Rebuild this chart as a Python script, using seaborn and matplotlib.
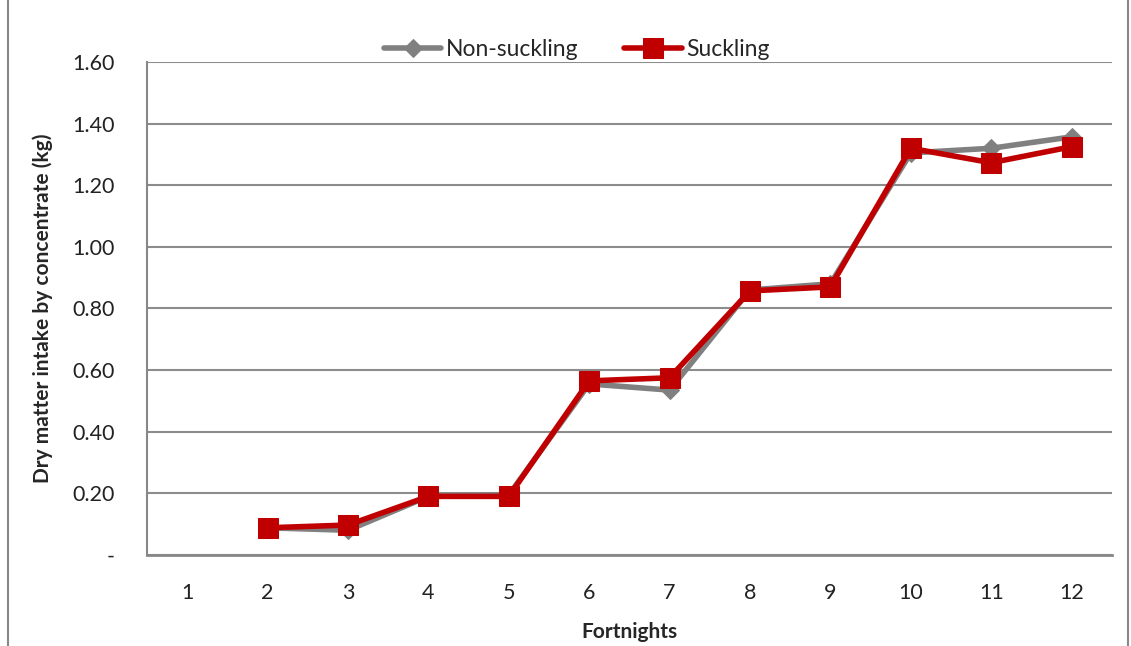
import pandas as pd
import seaborn as sns
import matplotlib.pyplot as plt
from matplotlib.patches import Rectangle

fortnights = [1, 2, 3, 4, 5, 6, 7, 8, 9, 10, 11, 12]
non_suckling = [None, 0.088, 0.080, 0.190, 0.195, 0.555, 0.535, 0.860, 0.880, 1.305, 1.320, 1.357]
suckling = [None, 0.088, 0.097, 0.190, 0.190, 0.565, 0.575, 0.857, 0.870, 1.320, 1.273, 1.325]
y_ticks = [0, 0.2, 0.4, 0.6, 0.8, 1.0, 1.2, 1.4, 1.6]
y_labels = ['-', '0.20', '0.40', '0.60', '0.80', '1.00', '1.20', '1.40', '1.60']

df = pd.DataFrame({'Fortnight': fortnights, 'Non-suckling': non_suckling, 'Suckling': suckling})

sns.set_style('white')
plt.rcParams['font.family'] = ['Lato', 'DejaVu Sans']

fig = plt.figure(figsize=(11.31, 6.46), dpi=100)
ax = fig.add_axes([0.130, 0.141, 0.853, 0.763])

sns.lineplot(data=df, x='Fortnight', y='Non-suckling', ax=ax, color='#808080',
             linewidth=4, marker='D', markersize=9, markeredgecolor='#808080',
             label='Non-suckling')
sns.lineplot(data=df, x='Fortnight', y='Suckling', ax=ax, color='#C00000',
             linewidth=4, marker='s', markersize=14, markeredgecolor='#C00000',
             label='Suckling')

ax.set_xlim(0.5, 12.5)
ax.set_ylim(0, 1.6)
ax.set_yticks(y_ticks)
ax.set_yticklabels(y_labels, fontsize=15.5, color='#222222')
ax.set_xticks(fortnights)
ax.set_xticklabels([str(f) for f in fortnights], fontsize=15.5, color='#222222')
ax.set_xticks([x + 0.5 for x in range(0, 13)], minor=True)
ax.tick_params(axis='x', which='major', length=0, pad=20)
ax.tick_params(axis='x', which='minor', length=7, color='#888888', width=1.2, direction='out')
ax.tick_params(axis='y', length=7, color='#888888', width=1.2, direction='out', pad=16)
ax.grid(axis='y', color='#8c8c8c', linewidth=1.5)
ax.set_axisbelow(True)
for s in ['top', 'right']:
    ax.spines[s].set_visible(False)
ax.spines['left'].set_color('#888888')
ax.spines['left'].set_linewidth(1.5)
ax.spines['bottom'].set_color('#888888')
ax.spines['bottom'].set_linewidth(2)

ax.set_xlabel('Fortnights', fontsize=15, fontweight='bold', labelpad=14)
ax.set_ylabel('Dry matter intake by concentrate (kg)', fontsize=15, fontweight='bold', labelpad=14)

ax.legend(loc='upper center', bbox_to_anchor=(0.51, 0.972), bbox_transform=fig.transFigure,
          ncol=2, frameon=False, fontsize=16.5, handlelength=2.5, columnspacing=2,
          handletextpad=0.2)

fig.patches.append(Rectangle((0.007, -0.01), 0.99, 1.02, transform=fig.transFigure,
                             fill=False, edgecolor='#888888', linewidth=1.5))

fig.savefig('out.png', dpi=100)
